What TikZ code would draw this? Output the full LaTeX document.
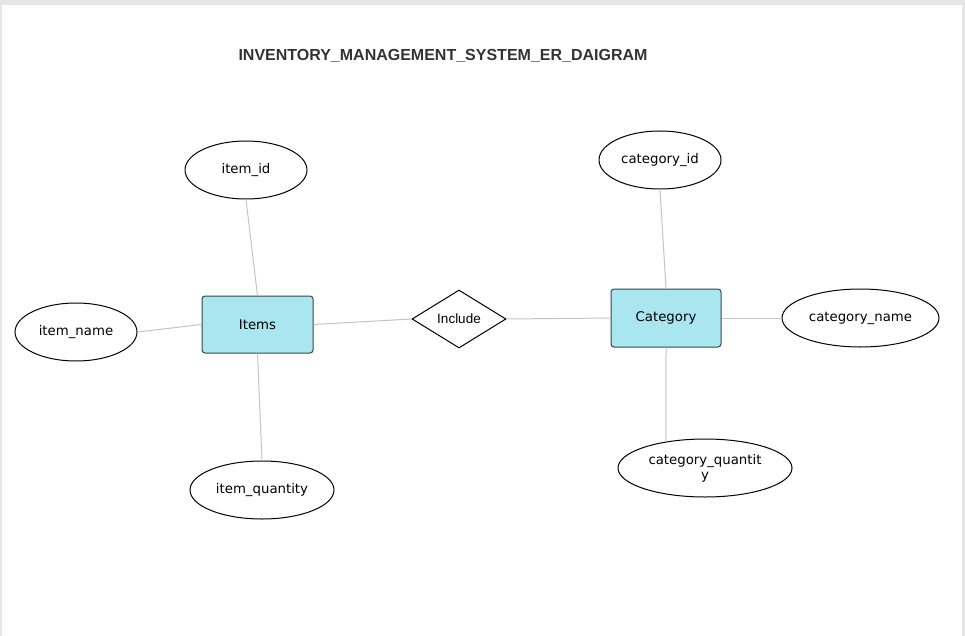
\documentclass[tikz,border=0pt]{standalone}
\usepackage{fontspec}
\setmainfont{DejaVu Sans}
\newfontfamily\arialfont{Liberation Sans}
\usetikzlibrary{shapes.geometric}
\definecolor{entfill}{HTML}{A9E6EF}
\definecolor{entdraw}{HTML}{33464C}
\definecolor{linkgray}{HTML}{C4C4C4}
\definecolor{framegray}{HTML}{E6E6E6}
\definecolor{titlecol}{HTML}{333333}
\tikzset{
  attr/.style={ellipse, draw=black, line width=1pt, fill=white, inner sep=0pt,
    minimum height=58pt, font=\fontsize{13.3}{15}\selectfont, align=center},
  entity/.style={rectangle, rounded corners=3pt, draw=entdraw, line width=1pt, fill=entfill,
    inner sep=0pt, font=\fontsize{13.3}{15}\selectfont},
  rel/.style={diamond, draw=black, line width=1pt, fill=white, inner sep=0pt, aspect=1.62,
    font=\arialfont\fontsize{13.5}{15}\selectfont},
  link/.style={draw=linkgray, line width=1pt}
}
\begin{document}
\begin{tikzpicture}[x=1pt,y=-1pt]
\useasboundingbox (0,0) rectangle (965,636);
\fill[framegray] (0,0) rectangle (965,636);
\fill[white] (2,5) rectangle (962,636);

\node[font=\arialfont\bfseries\fontsize{16}{18}\selectfont, text=titlecol] (title) at (443,56) {INVENTORY\_MANAGEMENT\_SYSTEM\_ER\_DAIGRAM};

\node[entity, minimum width=111pt, minimum height=57pt] (items) at (257.5,324.5) {Items};
\node[entity, minimum width=110pt, minimum height=58pt] (category) at (666,318) {Category};
\node[rel, minimum width=94pt, minimum height=58pt] (include) at (459,319) {Include};

\node[attr, minimum width=122pt] (itemid) at (246,170) {item\_id};
\node[attr, minimum width=122pt] (itemname) at (76,332) {item\_name};
\node[attr, minimum width=144pt] (itemqty) at (262,490) {item\_quantity};
\node[attr, minimum width=122pt] (catid) at (660,160) {category\_id};
\node[attr, minimum width=157pt] (catname) at (860.5,318) {category\_name};
\node[attr, minimum width=174pt] (catqty) at (705,468) {category\_quantit\\y};

\draw[link] (itemid.south) -- (items.north);
\draw[link] (itemname.east) -- (items.west);
\draw[link] (items.south) -- (itemqty.north);
\draw[link] (items.east) -- (include.west);
\draw[link] (include.east) -- (category.west);
\draw[link] (catid.south) -- (category.north);
\draw[link] (category.east) -- (catname.west);
\draw[link] (category.south) -- (catqty.146);
\end{tikzpicture}
\end{document}
